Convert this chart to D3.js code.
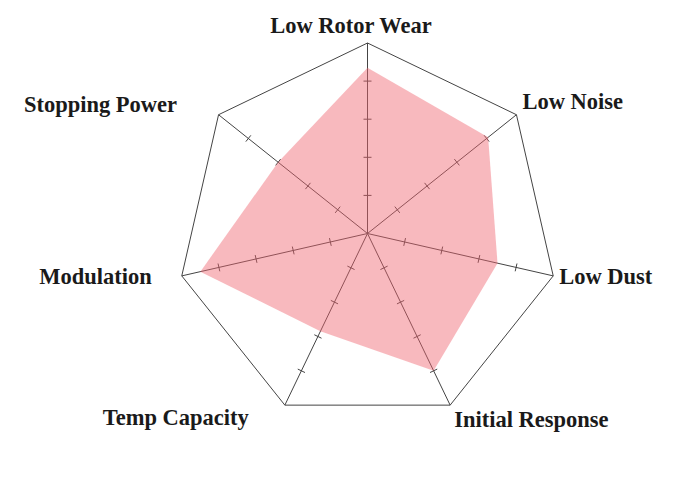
<!DOCTYPE html>
<html>
<head>
<meta charset="utf-8">
<script src="https://cdn.jsdelivr.net/npm/d3@7"></script>
<style>
  html, body { margin: 0; padding: 0; background: #fff; }
  svg { display: block; }
</style>
</head>
<body>
<div id="chart"></div>
<script>
// dati del radar
const categories = ['Low Rotor Wear', 'Low Noise', 'Low Dust', 'Initial Response', 'Temp Capacity', 'Modulation', 'Stopping Power'];
const values = [8.7, 8.1, 7.0, 8.0, 5.7, 9.0, 6.0];
const tickValues = [2, 4, 6, 8];
const maxValue = 10;

const width = 684, height = 478;
const cx = 367.5, cy = 233.5, radius = 190.5;

// spostamento delle etichette rispetto al vertice [dx, dy, anchor]
const labelOffsets = [
    [-16.5, -10.5, 'middle'],
    [6, -6, 'start'],
    [6, 8, 'start'],
    [4, 22, 'start'],
    [-36, 20, 'end'],
    [-30, 8.5, 'end'],
    [-41.5, -2.5, 'end']
];

const svg = d3.select('#chart').append('svg')
    .attr('width', width)
    .attr('height', height);

const g = svg.append('g').attr('transform', `translate(${cx},${cy})`);

const rScale = d3.scaleLinear().domain([0, maxValue]).range([0, radius]);
const angle = d3.scaleLinear().domain([0, categories.length]).range([0, 2 * Math.PI]);

// coordinate polari -> cartesiane (0 = in alto, senso orario)
function pt(i, v) {
    const a = angle(i);
    return [rScale(v) * Math.sin(a), -rScale(v) * Math.cos(a)];
}

// poligono esterno
g.append('polygon')
    .attr('points', categories.map((c, i) => pt(i, maxValue).join(',')).join(' '))
    .attr('fill', 'none')
    .attr('stroke', '#444')
    .attr('stroke-width', 1);

// assi
g.selectAll('.axis')
    .data(categories)
    .enter()
    .append('line')
    .attr('class', 'axis')
    .attr('x1', 0).attr('y1', 0)
    .attr('x2', (d, i) => pt(i, maxValue)[0])
    .attr('y2', (d, i) => pt(i, maxValue)[1])
    .attr('stroke', '#444')
    .attr('stroke-width', 1);

// tacche sugli assi
const tickLen = 4;
categories.forEach((c, i) => {
    const a = angle(i);
    const px = Math.cos(a), py = Math.sin(a); // direzione perpendicolare
    g.append('g').selectAll('line')
        .data(tickValues)
        .enter()
        .append('line')
        .attr('x1', d => pt(i, d)[0] - px * tickLen)
        .attr('y1', d => pt(i, d)[1] - py * tickLen)
        .attr('x2', d => pt(i, d)[0] + px * tickLen)
        .attr('y2', d => pt(i, d)[1] + py * tickLen)
        .attr('stroke', '#444')
        .attr('stroke-width', 1);
});

// area dei valori
const line = d3.line().curve(d3.curveLinearClosed);
g.append('path')
    .attr('d', line(values.map((v, i) => pt(i, v))))
    .attr('fill', 'rgb(240,100,110)')
    .attr('fill-opacity', 0.45)
    .attr('stroke', 'none');

// etichette
categories.forEach((c, i) => {
    const [x, y] = pt(i, maxValue);
    const [dx, dy, anchor] = labelOffsets[i];
    g.append('text')
        .attr('x', x + dx)
        .attr('y', y + dy)
        .attr('text-anchor', anchor)
        .attr('font-family', '"Liberation Serif", "Times New Roman", serif')
        .attr('font-weight', 'bold')
        .attr('font-size', '22.5px')
        .attr('fill', '#1a1a1a')
        .text(c);
});
</script>
</body>
</html>
